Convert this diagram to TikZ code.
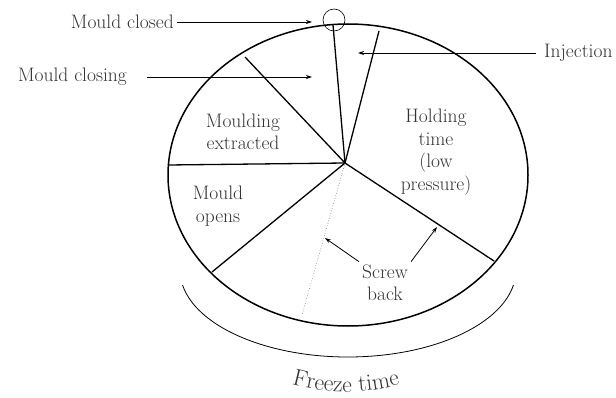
\documentclass[tikz,border=0pt]{standalone}
\usetikzlibrary{arrows.meta,decorations.text}

\begin{document}
\begin{tikzpicture}[
  x=1pt, y=1pt,
  font=\fontsize{19.5}{22.5}\selectfont,
  every node/.style={align=center, text=black!80},
  rim/.style   ={line width=1.5pt},
  spoke/.style ={line width=1.3pt},
  flow/.style  ={-{Stealth[length=6pt,width=4pt]}, line width=0.8pt},
  lbl/.style   ={inner sep=3pt},
]
\useasboundingbox (0,0) rectangle (616,397);

% cycle ellipse
\draw[rim] (348,222) ellipse [x radius=180, y radius=151];

% spokes from the hub
\coordinate (hub)   at (345,234);
\coordinate (top)   at (333,372);
\coordinate (inj)   at (379,366);
\coordinate (clo)   at (245,340);
\coordinate (left)  at (168,232);
\coordinate (lowl)  at (212,125);
\coordinate (lowr)  at (494,136);
\coordinate (dotend) at (302,82);

\draw[spoke] (hub) -- (top);
\draw[spoke] (hub) -- (inj);
\draw[spoke] (hub) -- (clo);
\draw[spoke] (hub) -- (left);
\draw[spoke] (hub) -- (lowl);
\draw[spoke] (hub) -- (lowr);
\draw[dotted, line width=0.6pt, black!60] (hub) -- (dotend);

\node[draw, circle, minimum size=22pt, inner sep=0pt, line width=0.6pt] (closed) at (334,377) {};

% sector labels
\node[lbl] (extracted) at (243,265) {Moulding\\extracted};
\node[lbl] (opens)     at (218,191) {Mould\\opens};
\node[lbl] (holding)   at (436,245) {Holding\\time\\(low\\pressure)};
\node[lbl] (screw)     at (385,114) {Screw\\back};

% outside labels with arrows
\node[lbl, anchor=east] (mclosed)  at (177,375) {Mould closed};
\node[lbl, anchor=east] (mclosing) at (130,320) {Mould closing};
\node[lbl, anchor=west] (injection) at (541,344) {Injection};

\coordinate (mclosedtip)  at (312,375);
\coordinate (mclosingtip) at (312,320);
\coordinate (injtip)      at (358,344);
\coordinate (screwtipa)   at (325,159);
\coordinate (screwtipb)   at (437,170);

\draw[flow] (mclosed) -- (mclosedtip);
\draw[flow, shorten <=17pt] (mclosing) -- (mclosingtip);
\draw[flow, shorten <=5pt] (injection) -- (injtip);
\draw[flow] (screw.north west) -- (screwtipa);
\draw[flow] (screw.north east) -- (screwtipb);

% freeze time
\draw[line width=0.8pt] (182.55,111.9) arc[start angle=190, end angle=350, x radius=168, y radius=87];
\path[decorate, decoration={text along path, text align=center,
      text={|\fontsize{23.5}{26}\selectfont\color{black!80}|Freeze time}}]
  (246,31.8) arc[start angle=240, end angle=300, radius=200];

\end{tikzpicture}
\end{document}
